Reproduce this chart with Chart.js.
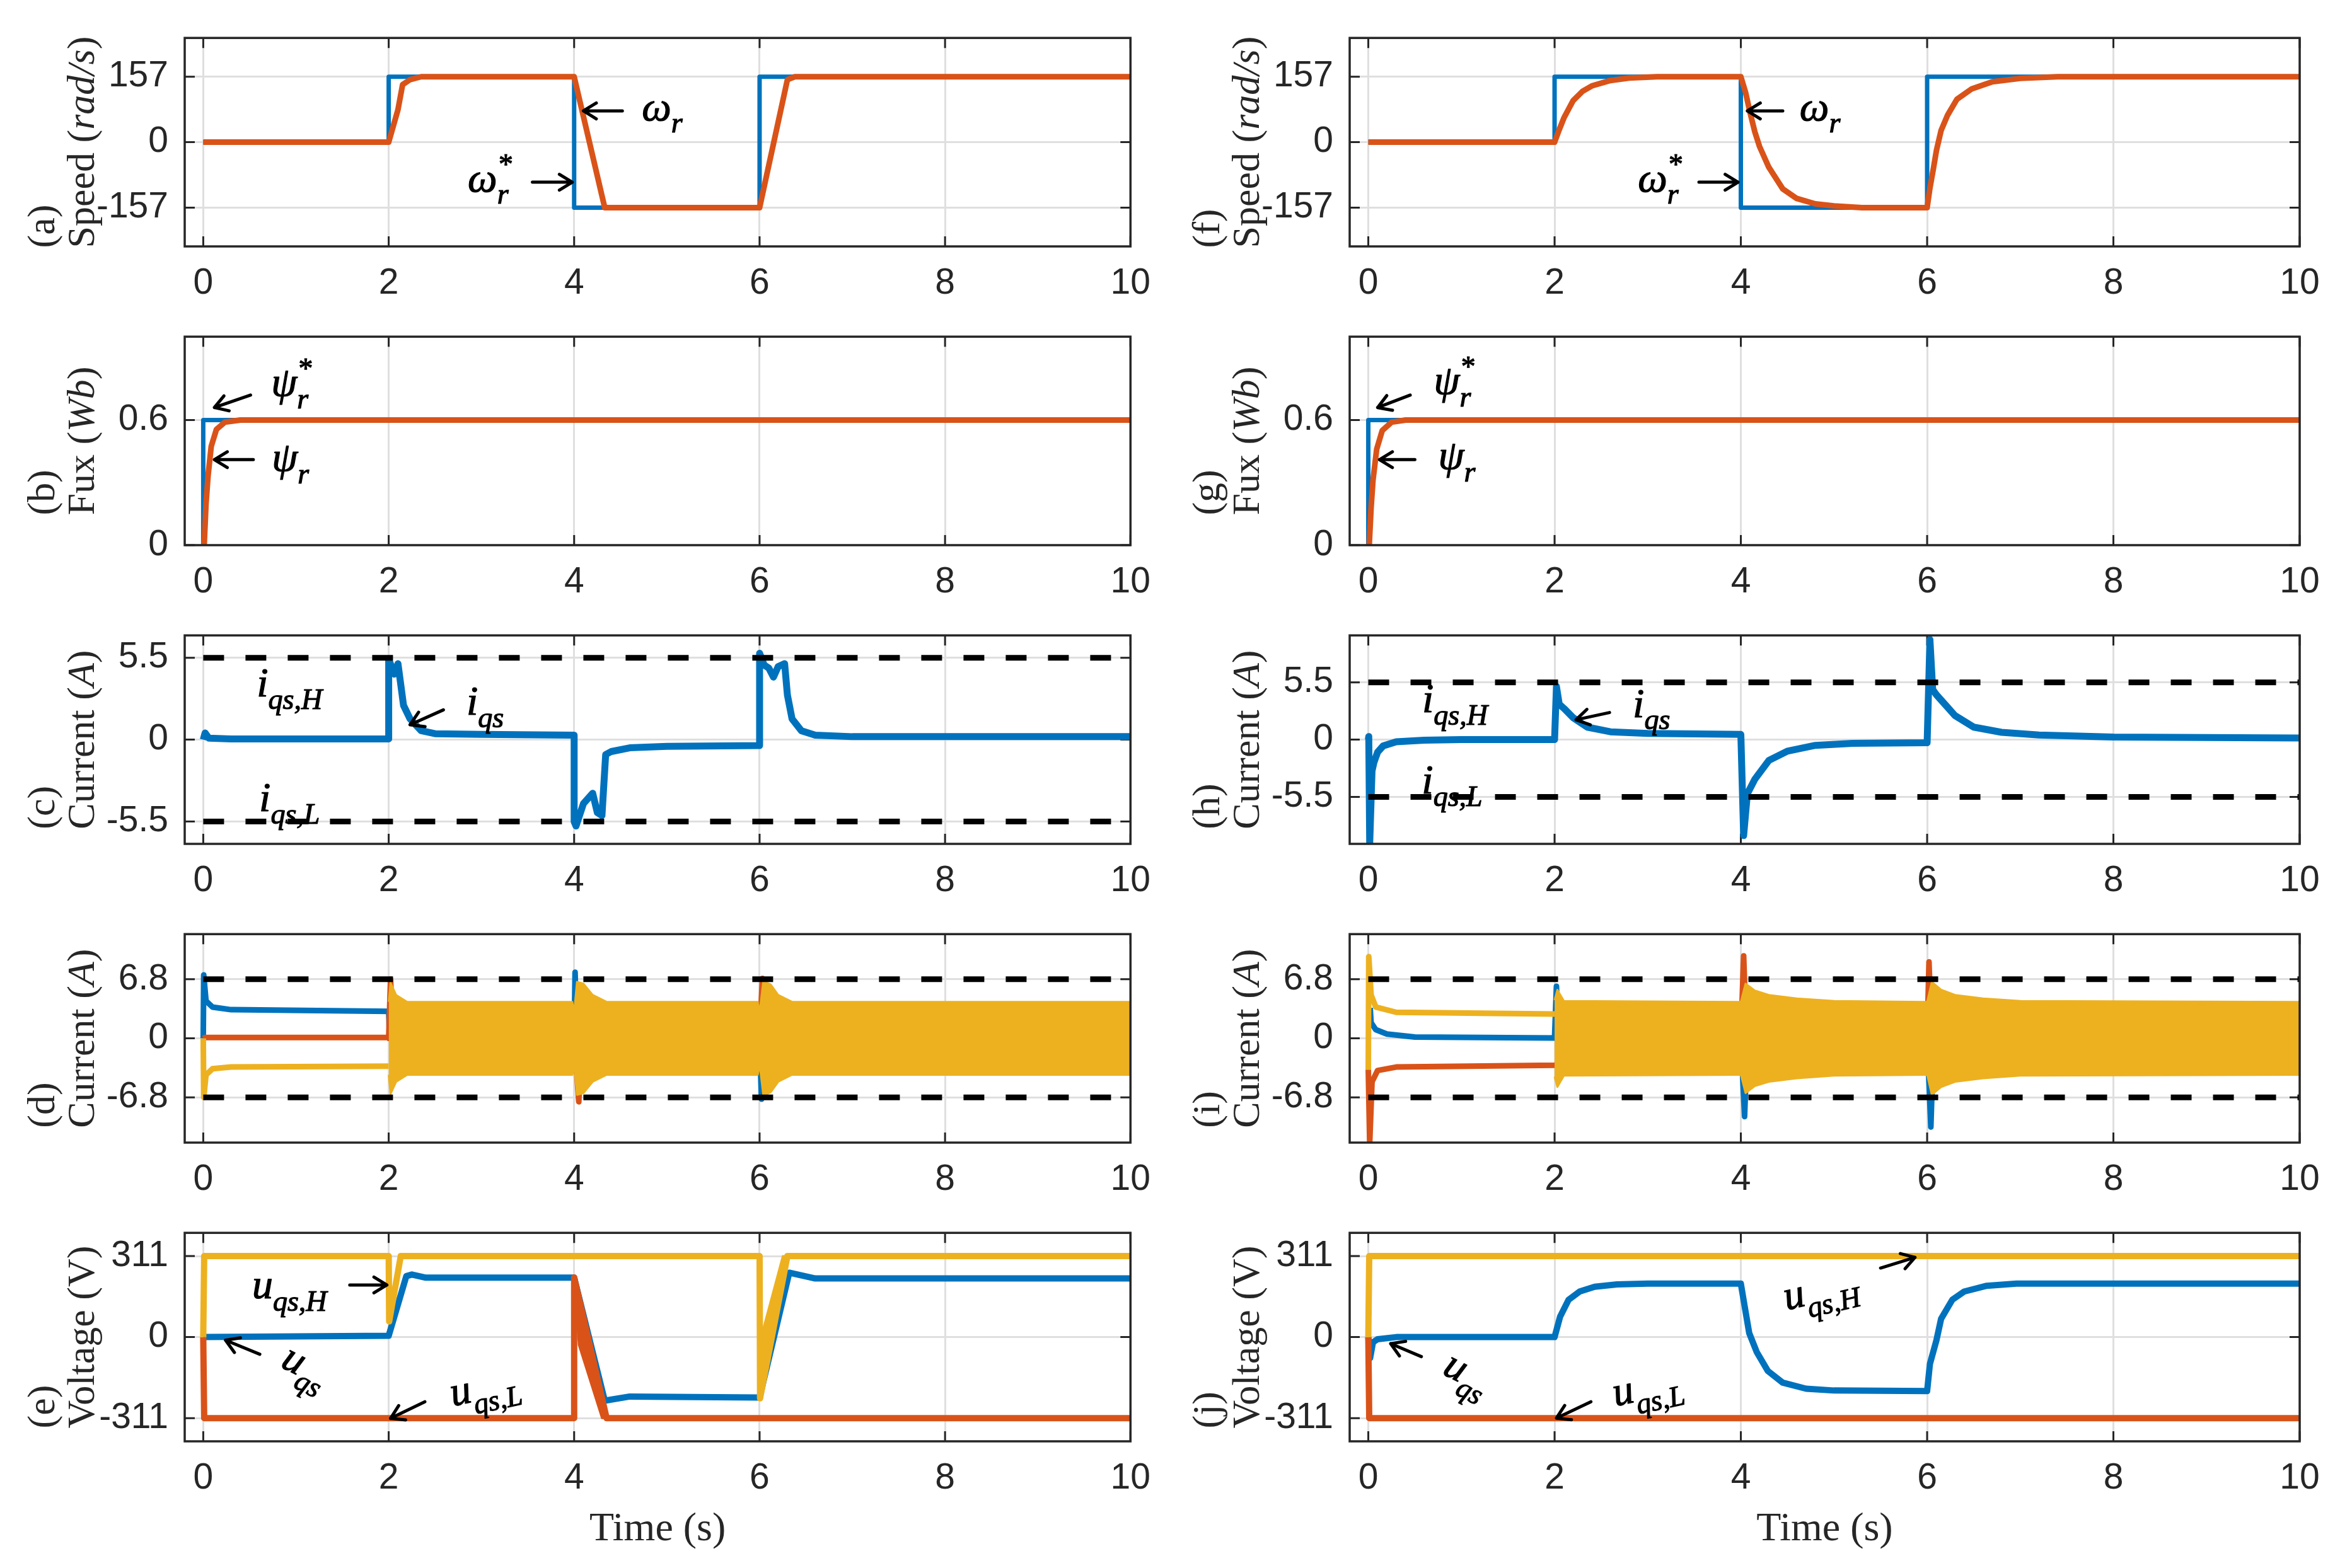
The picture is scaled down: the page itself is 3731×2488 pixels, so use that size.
<!DOCTYPE html>
<html>
<head>
<meta charset="utf-8">
<script src="https://cdn.jsdelivr.net/npm/chart.js@4.4.1/dist/chart.umd.min.js"></script>
<style>
  html, body { margin: 0; padding: 0; background: #fff; }
  #page { position: relative; width: 3731px; height: 2488px; overflow: hidden; background: #fff; }
  #page canvas { position: absolute; }
</style>
</head>
<body>
<div id="page"></div>
<script>

/* ===== shared time axis ===== */

const timeTicks = [0, 2, 4, 6, 8, 10]
const timeMin = -0.2
const timeMax = 10


/* ===== (a) speed, left ===== */

const speedTicks = [-157, 0, 157]
const aRefT = [0, 2, 2, 4, 4, 6, 6, 10]
const aRefV = [0, 0, 157, 157, -157, -157, 157, 157]
const aSpdT = [0, 2, 2.1, 2.15, 2.23, 2.35, 4, 4.33, 6, 6.3, 6.38, 10]
const aSpdV = [0, 0, 78, 138, 150, 157, 157, -157, -157, 150, 157, 157]

/* ===== (f) speed, right ===== */

const fRefT = [0, 2, 2, 4, 4, 6, 6, 10]
const fRefV = [0, 0, 157, 157, -157, -157, 157, 157]
const fSpdT = [0, 2, 2.05, 2.1, 2.2, 2.3, 2.4, 2.6, 2.8, 3.1, 4, 4.05, 4.1, 4.15, 4.2, 4.3, 4.45, 4.6, 4.8, 5.0, 5.3, 6, 6.03, 6.07, 6.1, 6.15, 6.22, 6.32, 6.48, 6.7, 7.0, 7.4, 10]
const fSpdV = [0, 0, 30, 58, 100, 122, 135, 148, 154, 157, 157, 120, 70, 25, -10, -60, -112, -135, -148, -153, -157, -157, -110, -60, -20, 28, 65, 103, 128, 145, 153, 157, 157]

/* ===== (b) / (g) flux ===== */

const fluxTicks = [0, 0.6]
const bRefT = [0, 0, 10]
const bRefV = [0, 0.6, 0.6]
const bFluxT = [0.01, 0.03, 0.052, 0.086, 0.142, 0.233, 0.4, 10]
const bFluxV = [0, 0.2, 0.333, 0.474, 0.555, 0.59, 0.6, 0.6]
const gRefT = [0, 0, 10]
const gRefV = [0, 0.6, 0.6]
const gFluxT = [0.01, 0.03, 0.05, 0.09, 0.15, 0.25, 0.4, 10]
const gFluxV = [0, 0.18, 0.31, 0.46, 0.55, 0.59, 0.6, 0.6]

/* ===== (c) / (h) q-axis current ===== */

const iqTicks = [-5.5, 0, 5.5]
const iqLimits = [5.5, -5.5]
const cT = [0, 0.02, 0.06, 0.3, 2, 2.0, 2.06, 2.1, 2.16, 2.23, 2.35, 2.5, 3, 4, 4.0, 4.02, 4.1, 4.2, 4.25, 4.3, 4.34, 4.4, 4.6, 5, 6, 6.0, 6.05, 6.1, 6.15, 6.2, 6.27, 6.3, 6.35, 6.45, 6.6, 7, 10]
const cV = [0, 0.45, 0.1, 0.05, 0.05, 5.4, 4.4, 5.1, 2.3, 1.4, 0.6, 0.4, 0.35, 0.3, -5.5, -5.8, -4.3, -3.6, -4.9, -5.1, -1.0, -0.8, -0.55, -0.45, -0.4, 5.8, 5.0, 4.8, 4.2, 4.9, 5.1, 3.0, 1.4, 0.6, 0.3, 0.2, 0.2]
const hT = [0, 0.005, 0.015, 0.04, 0.06, 0.1, 0.16, 0.3, 0.6, 1, 2, 2.02, 2.05, 2.1, 2.2, 2.35, 2.6, 3, 4, 4.03, 4.07, 4.15, 4.3, 4.5, 4.8, 5.2, 6, 6.03, 6.06, 6.1, 6.2, 6.3, 6.5, 6.8, 7.2, 8, 10]
const hV = [0, 0.3, -10, -3.0, -2.2, -1.2, -0.6, -0.2, -0.05, 0, 0, 5.1, 3.4, 3.0, 2.1, 1.2, 0.75, 0.6, 0.5, -9.2, -5.2, -3.8, -2.0, -1.1, -0.55, -0.35, -0.3, 9.6, 4.8, 4.3, 3.3, 2.3, 1.2, 0.7, 0.45, 0.25, 0.15]

/* ===== (d) / (i) phase currents ===== */

const phTicks = [-6.8, 0, 6.8]
const phLimits = [6.8, -6.8]
const dBluT = [0, 0.005, 0.03, 0.1, 0.3, 2, 2.01, 4, 4.01, 4.03, 6, 6.02, 6.04, 10]
const dBluV = [0, 7.3, 4.3, 3.6, 3.3, 3.1, 0, 0, 7.6, 0, 0, -7.0, 0, 0]
const dOrT = [0, 0.02, 2, 2.0, 2.02, 2.05, 4, 4.05, 4.08, 6, 6.03, 6.06, 10]
const dOrV = [0, 0.1, 0.1, 0, 6.8, 0, 0, -7.3, 0, 0, 6.9, 0, 0]
const dYelT = [0, 0.005, 0.03, 0.1, 0.3, 2]
const dYelV = [0, -6.8, -4.2, -3.5, -3.3, -3.2]
const dBandT = [2, 2.02, 2.08, 2.2, 3.98, 4.0, 4.03, 4.1, 4.2, 4.35, 5.98, 6.0, 6.04, 6.12, 6.2, 6.35, 10]
const dBandHi = [4.2, 6.4, 5.0, 4.2, 4.2, 3.0, 6.5, 6.3, 5.0, 4.2, 4.2, 3.0, 6.6, 6.2, 5.0, 4.2, 4.2]
const dBandLo = [-4.2, -6.4, -5.0, -4.2, -4.2, -3.0, -6.5, -6.3, -5.0, -4.2, -4.2, -3.0, -6.6, -6.2, -5.0, -4.2, -4.2]

const iBluT = [0.02, 0.03, 0.08, 0.2, 0.5, 2, 2.02, 2.04, 4, 4.04, 4.07, 6, 6.04, 6.07, 10]
const iBluV = [3.5, 1.8, 1.0, 0.5, 0.15, 0.05, 6.0, 0, 0, -9.0, 0, 0, -10.2, 0, 0]
const iOrT = [0, 0.015, 0.04, 0.1, 0.3, 2, 4, 4.03, 4.06, 6, 6.02, 6.05, 10]
const iOrV = [-3.6, -12, -5, -3.7, -3.3, -3.1, 0, 9.5, 0, 0, 8.8, 0, 0]
const iYelT = [0, 0.005, 0.03, 0.08, 0.3, 2]
const iYelV = [-3.6, 9.4, 5.0, 3.6, 3.0, 2.8]
const iBandT = [2, 2.03, 2.1, 3.98, 4.0, 4.05, 4.15, 4.3, 4.6, 5.0, 5.98, 6.0, 6.05, 6.15, 6.3, 6.6, 7.0, 10]
const iBandHi = [4.4, 5.6, 4.3, 4.2, 4.2, 6.3, 5.5, 5.0, 4.6, 4.3, 4.2, 4.2, 6.5, 5.6, 5.0, 4.6, 4.3, 4.2]
const iBandLo = [-4.4, -5.6, -4.3, -4.2, -4.2, -6.3, -5.5, -5.0, -4.6, -4.3, -4.2, -4.2, -6.5, -5.6, -5.0, -4.6, -4.3, -4.2]

/* ===== (e) / (j) voltages ===== */

const voltTicks = [-311, 0, 311]
const eYelT = [0, 0.01, 2, 2.005, 2.13, 6, 6.005, 6.3, 10]
const eYelV = [0, 311, 311, 60, 311, 311, -235, 311, 311]
const eYelWedgeT = [6.0, 6.25, 6.3]
const eYelWedgeHi = [-20, 311, 311]
const eYelWedgeLo = [-235, 220, 311]
const eOrT = [0, 0.01, 4, 4, 4.35, 10]
const eOrV = [0, -311, -311, 229, -311, -311]
const eOrWedgeT = [4.0, 4.05, 4.3, 4.35]
const eOrWedgeHi = [229, 152, -234, -311]
const eOrWedgeLo = [229, -30, -311, -311]
const eBluT = [0, 2, 2.19, 2.25, 2.4, 4, 4.33, 4.6, 6, 6.32, 6.6, 10]
const eBluV = [0, 5, 234, 240, 228, 228, -244, -228, -232, 247, 225, 225]

const jYelT = [0, 0.01, 10]
const jYelV = [0, 311, 311]
const jOrT = [0, 0.01, 10]
const jOrV = [0, -311, -311]
const jBluT = [0, 0.02, 0.05, 0.1, 0.3, 2, 2.06, 2.15, 2.27, 2.43, 2.67, 3, 4, 4.04, 4.09, 4.17, 4.29, 4.45, 4.7, 5, 6, 6.03, 6.1, 6.15, 6.27, 6.4, 6.64, 6.96, 10]
const jBluV = [0, -80, -20, -8, 0, 0, 79, 143, 175, 193, 202, 205, 205, 120, 15, -57, -130, -175, -198, -205, -207, -103, -12, 70, 143, 175, 197, 205, 205]


/* ===== look ===== */

const SANS = '"Liberation Sans", Arial, sans-serif'
const SERIF = '"Liberation Serif", "Times New Roman", serif'
const INK = "#262626"
const GRID = "#dfdfdf"
const BLUE = "#0072BD"
const ORANGE = "#D95319"
const YELLOW = "#EDB120"

const colLeft = [0, 1850]
const colWidth = [1850, 1881]
const plotLeft = [293, 291]
const plotRightPad = [50, 83]
const rowStep = 474
const plotTop = 59
const plotHeight = 332


/* ===== dataset helpers ===== */

function pts(t, v) {
  return t.map(function (x, i) { return { x: x, y: v[i] } })
}

function line(t, v, color, width, extra) {
  return Object.assign({
    data: pts(t, v),
    borderColor: color,
    backgroundColor: color,
    borderWidth: width,
    pointRadius: 0,
    tension: 0,
    fill: false,
    borderJoinStyle: "round"
  }, extra || {})
}

function limitLines(values) {
  return values.map(function (v) {
    return line([0, 10], [v, v], "#000000", 9, { borderDash: [33, 34], borderJoinStyle: "miter" })
  })
}

function band(t, hi, lo, color) {
  return [
    line(t, hi, color, 3, { fill: "+1", backgroundColor: color }),
    line(t, lo, color, 3)
  ]
}


/* ===== panels ===== */

const panels = [
  {
    col: 0, row: 0, yMin: -250, yMax: 250, yTicks: speedTicks,
    title: [[["(a)"]], [["Speed ("], ["rad/s", 1], [")"]]],
    sets: [line(aSpdT, aSpdV, ORANGE, 9), line(aRefT, aRefV, BLUE, 7)],
    notes: [
      { at: [4.95, 75], parts: [["ω"], ["r", "b"]] },
      { at: [3.09, -96], parts: [["ω"], ["r", "b"], ["*", "p"]] }
    ],
    arrows: [[4.52, 75, 4.1, 75], [3.55, -96, 3.98, -96]]
  },
  {
    col: 1, row: 0, yMin: -250, yMax: 250, yTicks: speedTicks,
    title: [[["(f)"]], [["Speed ("], ["rad/s", 1], [")"]]],
    sets: [line(fSpdT, fSpdV, ORANGE, 9), line(fRefT, fRefV, BLUE, 7)],
    notes: [
      { at: [4.85, 75], parts: [["ω"], ["r", "b"]] },
      { at: [3.13, -96], parts: [["ω"], ["r", "b"], ["*", "p"]] }
    ],
    arrows: [[4.45, 75, 4.07, 75], [3.55, -96, 3.97, -96]]
  },
  {
    col: 0, row: 1, yMin: 0, yMax: 1, yTicks: fluxTicks,
    title: [[["(b)"]], [["Fux ("], ["Wb", 1], [")"]]],
    sets: [line(bFluxT, bFluxV, ORANGE, 9), line(bRefT, bRefV, BLUE, 7)],
    notes: [
      { at: [0.95, 0.76], parts: [["ψ"], ["r", "b"], ["*", "p"]] },
      { at: [0.94, 0.40], parts: [["ψ"], ["r", "b"]] }
    ],
    arrows: [[0.51, 0.72, 0.12, 0.66], [0.54, 0.41, 0.12, 0.41]]
  },
  {
    col: 1, row: 1, yMin: 0, yMax: 1, yTicks: fluxTicks,
    title: [[["(g)"]], [["Fux ("], ["Wb", 1], [")"]]],
    sets: [line(gFluxT, gFluxV, ORANGE, 9), line(gRefT, gRefV, BLUE, 7)],
    notes: [
      { at: [0.92, 0.77], parts: [["ψ"], ["r", "b"], ["*", "p"]] },
      { at: [0.95, 0.41], parts: [["ψ"], ["r", "b"]] }
    ],
    arrows: [[0.45, 0.72, 0.1, 0.66], [0.5, 0.41, 0.12, 0.41]]
  },
  {
    col: 0, row: 2, yMin: -7, yMax: 7, yTicks: iqTicks,
    title: [[["(c)"]], [["Current ("], ["A", 1], [")"]]],
    sets: limitLines(iqLimits).concat([line(cT, cV, BLUE, 11)]),
    notes: [
      { at: [0.93, 3.5], parts: [["i"], ["qs,H", "b"]] },
      { at: [0.93, -4.2], parts: [["i"], ["qs,L", "b"]] },
      { at: [3.04, 2.3], parts: [["i"], ["qs", "b"]] }
    ],
    arrows: [[2.59, 2.0, 2.23, 1.0]]
  },
  {
    col: 1, row: 2, yMin: -10, yMax: 10, yTicks: iqTicks,
    title: [[["(h)"]], [["Current ("], ["A", 1], [")"]]],
    sets: limitLines(iqLimits).concat([line(hT, hV, BLUE, 11)]),
    notes: [
      { at: [0.93, 3.5], parts: [["i"], ["qs,H", "b"]] },
      { at: [0.9, -4.3], parts: [["i"], ["qs,L", "b"]] },
      { at: [3.04, 3.05], parts: [["i"], ["qs", "b"]] }
    ],
    arrows: [[2.59, 2.6, 2.23, 1.9]]
  },
  {
    col: 0, row: 3, yMin: -12, yMax: 12, yTicks: phTicks,
    title: [[["(d)"]], [["Current ("], ["A", 1], [")"]]],
    sets: limitLines(phLimits)
      .concat(band(dBandT, dBandHi, dBandLo, YELLOW))
      .concat([line(dYelT, dYelV, YELLOW, 9), line(dOrT, dOrV, ORANGE, 9), line(dBluT, dBluV, BLUE, 9)]),
    notes: [],
    arrows: []
  },
  {
    col: 1, row: 3, yMin: -12, yMax: 12, yTicks: phTicks,
    title: [[["(i)"]], [["Current ("], ["A", 1], [")"]]],
    sets: limitLines(phLimits)
      .concat(band(iBandT, iBandHi, iBandLo, YELLOW))
      .concat([line(iYelT, iYelV, YELLOW, 9), line(iOrT, iOrV, ORANGE, 9), line(iBluT, iBluV, BLUE, 9)]),
    notes: [],
    arrows: []
  },
  {
    col: 0, row: 4, yMin: -400, yMax: 400, yTicks: voltTicks,
    title: [[["(e)"]], [["Voltage (V)"]]],
    sets: band(eYelWedgeT, eYelWedgeHi, eYelWedgeLo, YELLOW)
      .concat([line(eYelT, eYelV, YELLOW, 10)])
      .concat(band(eOrWedgeT, eOrWedgeHi, eOrWedgeLo, ORANGE))
      .concat([line(eOrT, eOrV, ORANGE, 10), line(eBluT, eBluV, BLUE, 10)]),
    notes: [
      { at: [0.93, 184], parts: [["u"], ["qs,H", "b"]] },
      { at: [1.09, -121], parts: [["u"], ["qs", "b"]], rot: 27 },
      { at: [3.04, -203], parts: [["u"], ["qs,L", "b"]], rot: -12 }
    ],
    arrows: [[1.58, 200, 1.98, 200], [0.61, -66, 0.24, -12], [2.39, -248, 2.02, -312]],
    xTitle: "Time (s)"
  },
  {
    col: 1, row: 4, yMin: -400, yMax: 400, yTicks: voltTicks,
    title: [[["(j)"]], [["Voltage (V)"]]],
    sets: [line(jYelT, jYelV, YELLOW, 10), line(jOrT, jOrV, ORANGE, 10), line(jBluT, jBluV, BLUE, 10)],
    notes: [
      { at: [4.86, 170], parts: [["u"], ["qs,H", "b"]], rot: -13 },
      { at: [1.05, -148], parts: [["u"], ["qs", "b"]], rot: 27 },
      { at: [3.0, -203], parts: [["u"], ["qs,L", "b"]], rot: -12 }
    ],
    arrows: [[5.5, 265, 5.87, 306], [0.57, -75, 0.24, -25], [2.39, -248, 2.02, -311]],
    xTitle: "Time (s)"
  }
]


/* ===== text drawing ===== */

function drawMath(ctx, parts, cx, cy, size, rot) {
  const runs = []
  let x = 0
  let subStart = null
  let w = 0
  parts.forEach(function (p) {
    const kind = p[1] || "m"
    const fs = kind === "m" ? size : Math.round(size * 0.7)
    const font = "italic " + fs + "px " + SERIF
    ctx.font = font
    if (kind === "p" && subStart !== null) x = subStart
    if (kind === "b") subStart = x
    if (kind === "m") subStart = null
    const dy = kind === "b" ? size * 0.3 : kind === "p" ? -size * 0.42 : 0
    runs.push({ t: p[0], x: x, dy: dy, font: font })
    x += ctx.measureText(p[0]).width
    w = Math.max(w, x)
  })
  ctx.save()
  ctx.translate(cx, cy)
  ctx.rotate((rot || 0) * Math.PI / 180)
  ctx.fillStyle = "#000"
  ctx.strokeStyle = "#000"
  ctx.lineWidth = 1.2
  ctx.textBaseline = "alphabetic"
  ctx.textAlign = "left"
  runs.forEach(function (r) {
    ctx.font = r.font
    ctx.fillText(r.t, r.x - w / 2, r.dy + size * 0.22)
    ctx.strokeText(r.t, r.x - w / 2, r.dy + size * 0.22)
  })
  ctx.restore()
}

function segFont(seg, size) {
  return (seg[1] ? "italic " : "") + size + "px " + SERIF
}

function drawYTitle(ctx, area, lines) {
  const size = 62
  const widths = lines.map(function (l) {
    return l.reduce(function (s, seg) {
      ctx.font = segFont(seg, size)
      return s + ctx.measureText(seg[0]).width
    }, 0)
  })
  const block = Math.max.apply(null, widths)
  const cy = (area.top + area.bottom) / 2
  const offs = [223, 160]
  lines.forEach(function (l, i) {
    ctx.save()
    ctx.translate(area.left - offs[i], cy)
    ctx.rotate(-Math.PI / 2)
    ctx.fillStyle = INK
    ctx.textBaseline = "middle"
    ctx.textAlign = "left"
    let x = -block / 2
    l.forEach(function (seg) {
      ctx.font = segFont(seg, size)
      ctx.fillText(seg[0], x, 0)
      x += ctx.measureText(seg[0]).width
    })
    ctx.restore()
  })
}

function drawArrow(ctx, x1, y1, x2, y2) {
  const ang = Math.atan2(y2 - y1, x2 - x1)
  const L = 24
  const w = 0.55
  ctx.beginPath()
  ctx.moveTo(x1, y1)
  ctx.lineTo(x2, y2)
  ctx.moveTo(x2 - L * Math.cos(ang - w), y2 - L * Math.sin(ang - w))
  ctx.lineTo(x2, y2)
  ctx.lineTo(x2 - L * Math.cos(ang + w), y2 - L * Math.sin(ang + w))
  ctx.stroke()
}


/* ===== plugin: ticks, box, labels ===== */

const decorations = {
  id: "decorations",
  beforeDatasetsDraw(chart) {
    const p = panels[chart.canvas.dataset.idx]
    const ctx = chart.ctx
    const a = chart.chartArea
    const xs = chart.scales.x
    const ys = chart.scales.y
    ctx.save()
    ctx.strokeStyle = INK
    ctx.lineWidth = 3
    ctx.beginPath()
    timeTicks.forEach(function (v) {
      const px = xs.getPixelForValue(v)
      ctx.moveTo(px, a.bottom); ctx.lineTo(px, a.bottom - 16)
      ctx.moveTo(px, a.top); ctx.lineTo(px, a.top + 16)
    })
    p.yTicks.forEach(function (v) {
      const py = ys.getPixelForValue(v)
      ctx.moveTo(a.left, py); ctx.lineTo(a.left + 16, py)
      ctx.moveTo(a.right, py); ctx.lineTo(a.right - 16, py)
    })
    ctx.stroke()
    ctx.restore()
  },
  afterDraw(chart) {
    const p = panels[chart.canvas.dataset.idx]
    const ctx = chart.ctx
    const a = chart.chartArea
    const xs = chart.scales.x
    const ys = chart.scales.y
    ctx.save()

    ctx.strokeStyle = INK
    ctx.lineWidth = 3.5
    ctx.strokeRect(a.left, a.top, a.right - a.left, a.bottom - a.top)

    drawYTitle(ctx, a, p.title)

    if (p.xTitle) {
      ctx.fillStyle = INK
      ctx.font = "64px " + SERIF
      ctx.textAlign = "center"
      ctx.textBaseline = "middle"
      ctx.fillText(p.xTitle, (a.left + a.right) / 2, a.bottom + 140)
    }

    ctx.strokeStyle = "#000"
    ctx.lineWidth = 5
    ctx.lineCap = "round"
    ctx.lineJoin = "round"
    p.arrows.forEach(function (r) {
      drawArrow(ctx, xs.getPixelForValue(r[0]), ys.getPixelForValue(r[1]),
        xs.getPixelForValue(r[2]), ys.getPixelForValue(r[3]))
    })

    p.notes.forEach(function (n) {
      drawMath(ctx, n.parts, xs.getPixelForValue(n.at[0]), ys.getPixelForValue(n.at[1]), 66, n.rot)
    })

    ctx.restore()
  }
}

Chart.register(decorations)


/* ===== build charts ===== */

const page = document.getElementById("page")

panels.forEach(function (p, idx) {
  const h = p.row === 4 ? 592 : rowStep
  const cv = document.createElement("canvas")
  cv.width = colWidth[p.col]
  cv.height = h
  cv.style.left = colLeft[p.col] + "px"
  cv.style.top = (p.row * rowStep) + "px"
  cv.dataset.idx = idx
  page.appendChild(cv)

  new Chart(cv.getContext("2d"), {
    type: "line",
    data: { datasets: p.sets },
    options: {
      responsive: false,
      animation: false,
      devicePixelRatio: 1,
      events: [],
      layout: { padding: { top: plotTop, right: plotRightPad[p.col], left: 0, bottom: 0 } },
      plugins: { legend: { display: false }, tooltip: { enabled: false } },
      scales: {
        x: {
          type: "linear",
          min: timeMin,
          max: timeMax,
          afterBuildTicks: function (s) { s.ticks = timeTicks.map(function (v) { return { value: v } }) },
          afterFit: function (s) { s.height = h - plotTop - plotHeight },
          grid: { color: GRID, lineWidth: 3, drawTicks: false },
          border: { display: false },
          ticks: {
            autoSkip: false, maxRotation: 0, padding: 25, color: INK,
            font: { family: SANS, size: 57 },
            callback: function (v) { return String(v) }
          }
        },
        y: {
          type: "linear",
          min: p.yMin,
          max: p.yMax,
          afterBuildTicks: function (s) { s.ticks = p.yTicks.map(function (v) { return { value: v } }) },
          afterFit: function (s) { s.width = plotLeft[p.col] },
          grid: { color: GRID, lineWidth: 3, drawTicks: false },
          border: { display: false },
          ticks: {
            autoSkip: false, padding: 26, color: INK,
            font: { family: SANS, size: 57 },
            callback: function (v) { return String(v) }
          }
        }
      }
    }
  })
})

</script>
</body>
</html>
